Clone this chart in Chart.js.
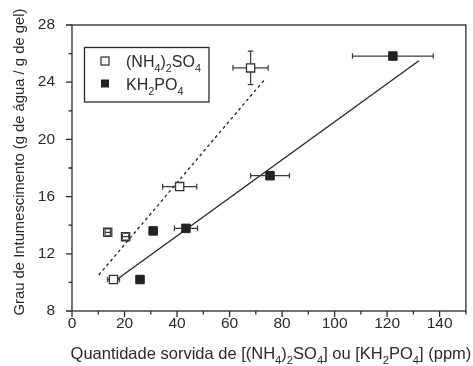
<!DOCTYPE html>
<html>
<head>
<meta charset="utf-8">
<script src="https://cdn.jsdelivr.net/npm/chart.js@4/dist/chart.umd.min.js"></script>
<style>
html,body{margin:0;padding:0;background:#fff;}
#wrap{width:473px;height:366px;position:relative;}
</style>
</head>
<body>
<div id="wrap"><canvas id="c" width="473" height="366"></canvas></div>
<script>
// ---- data ----
const nh4X = [68.0, 41.0, 13.6, 20.4, 15.8];
const nh4Y = [25.0, 16.7, 13.5, 13.2, 10.2];
const nh4XErr = [6.7, 6.5, 1.0, 1.2, 2.3];
const nh4YErr = [1.17, 0, 0.25, 0.25, 0];

const khX = [122.2, 75.4, 43.4, 30.9, 25.9];
const khY = [25.83, 17.46, 13.78, 13.6, 10.2];
const khXErr = [15.4, 7.4, 4.4, 0, 0];
const khYErr = [0, 0, 0, 0, 0];

const dashFitX = [10.2, 73.4];
const dashFitY = [10.52, 24.2];
const solidFitX = [16.8, 132.1];
const solidFitY = [10.17, 25.5];

const xTickLabels = [0, 20, 40, 60, 80, 100, 120, 140];
const yTickLabels = [8, 12, 16, 20, 24, 28];

const pts = (xs, ys) => xs.map((x, i) => ({x: x, y: ys[i]}));

const FONT = '"Liberation Sans", Arial, sans-serif';
const INK = '#2a2a2a';

function drawRich(ctx, segs, x, y, size, align) {
  ctx.save();
  let total = 0;
  segs.forEach(s => {
    ctx.font = (s.sub ? size * 0.68 : size) + 'px ' + FONT;
    total += ctx.measureText(s.t).width;
  });
  let cx = align === 'center' ? x - total / 2 : x;
  ctx.textAlign = 'left';
  ctx.textBaseline = 'alphabetic';
  segs.forEach(s => {
    ctx.font = (s.sub ? size * 0.68 : size) + 'px ' + FONT;
    ctx.fillText(s.t, cx, s.sub ? y + size * 0.33 : y);
    cx += ctx.measureText(s.t).width;
  });
  ctx.restore();
}

const decorPlugin = {
  id: 'decor',
  beforeDatasetsDraw(chart) {
    const ctx = chart.ctx, a = chart.chartArea;
    const xs = chart.scales.x, ys = chart.scales.y;
    ctx.save();
    ctx.strokeStyle = INK;
    ctx.lineWidth = 1.3;
    // frame
    ctx.strokeRect(a.left, a.top, a.right - a.left, a.bottom - a.top);
    // ticks
    ctx.beginPath();
    for (let v = 0; v <= 150; v += 10) {
      const px = xs.getPixelForValue(v);
      const len = (v % 20 === 0) ? 6 : 3.5;
      ctx.moveTo(px, a.bottom); ctx.lineTo(px, a.bottom + len);
    }
    for (let v = 8; v <= 28; v += 2) {
      const py = ys.getPixelForValue(v);
      const len = (v % 4 === 0) ? 6 : 3.5;
      ctx.moveTo(a.left, py); ctx.lineTo(a.left - len, py);
    }
    ctx.stroke();
    ctx.restore();

    // axis titles
    ctx.save();
    ctx.fillStyle = INK;
    drawRich(ctx, [
      {t: 'Quantidade sorvida de [(NH'}, {t: '4', sub: true}, {t: ')'}, {t: '2', sub: true},
      {t: 'SO'}, {t: '4', sub: true}, {t: '] ou [KH'}, {t: '2', sub: true}, {t: 'PO'},
      {t: '4', sub: true}, {t: '] (ppm)'}
    ], (a.left + a.right) / 2 + 2, 359, 16.5, 'center');
    ctx.translate(24, 162);
    ctx.rotate(-Math.PI / 2);
    drawRich(ctx, [{t: 'Grau de Intumescimento (g de água / g de gel)'}], 0, 0, 14.8, 'center');
    ctx.restore();
  },
  afterDatasetsDraw(chart) {
    const ctx = chart.ctx;
    const xs = chart.scales.x, ys = chart.scales.y;
    const half = 4.2, cap = 2.8;
    ctx.save();
    ctx.strokeStyle = '#3a3a3a';
    ctx.lineWidth = 1.2;
    const bars = (X, Y, XE, YE) => {
      X.forEach((x, i) => {
        const cx = xs.getPixelForValue(x), cy = ys.getPixelForValue(Y[i]);
        ctx.beginPath();
        if (XE[i] > 0) {
          const l = xs.getPixelForValue(x - XE[i]), r = xs.getPixelForValue(x + XE[i]);
          if (cx - l > half + 1) {
            ctx.moveTo(l, cy); ctx.lineTo(cx - half, cy);
            ctx.moveTo(cx + half, cy); ctx.lineTo(r, cy);
          } else {
            ctx.moveTo(l, cy); ctx.lineTo(r, cy);
          }
          ctx.moveTo(l, cy - cap); ctx.lineTo(l, cy + cap);
          ctx.moveTo(r, cy - cap); ctx.lineTo(r, cy + cap);
        }
        if (YE[i] > 0) {
          const t = ys.getPixelForValue(Y[i] + YE[i]), b = ys.getPixelForValue(Y[i] - YE[i]);
          if (cy - t > half + 1) {
            ctx.moveTo(cx, t); ctx.lineTo(cx, cy - half);
            ctx.moveTo(cx, cy + half); ctx.lineTo(cx, b);
          }
          ctx.moveTo(cx - cap, t); ctx.lineTo(cx + cap, t);
          ctx.moveTo(cx - cap, b); ctx.lineTo(cx + cap, b);
        }
        ctx.stroke();
      });
    };
    bars(nh4X, nh4Y, nh4XErr, nh4YErr);
    bars(khX, khY, khXErr, khYErr);
    ctx.restore();

    // legend
    ctx.save();
    ctx.strokeStyle = INK;
    ctx.lineWidth = 1.3;
    ctx.strokeRect(84.5, 47.5, 124.5, 54.5);
    ctx.fillStyle = '#fff';
    ctx.fillRect(101, 57, 8, 8);
    ctx.lineWidth = 1.2;
    ctx.strokeRect(101, 57, 8, 8);
    ctx.fillStyle = '#222';
    ctx.fillRect(101, 79.5, 8, 8);
    ctx.fillStyle = INK;
    drawRich(ctx, [{t: '(NH'}, {t: '4', sub: true}, {t: ')'}, {t: '2', sub: true}, {t: 'SO'}, {t: '4', sub: true}], 126, 66.5, 16, 'left');
    drawRich(ctx, [{t: 'KH'}, {t: '2', sub: true}, {t: 'PO'}, {t: '4', sub: true}], 126, 90, 16, 'left');
    ctx.restore();
  }
};

new Chart(document.getElementById('c'), {
  type: 'scatter',
  data: {
    datasets: [
      {
        label: 'fit (NH4)2SO4', type: 'line', data: pts(dashFitX, dashFitY),
        borderColor: '#222', borderWidth: 1.3, borderDash: [3, 3], pointRadius: 0, showLine: true, fill: false, order: 3
      },
      {
        label: 'fit KH2PO4', type: 'line', data: pts(solidFitX, solidFitY),
        borderColor: '#222', borderWidth: 1.3, pointRadius: 0, showLine: true, fill: false, order: 3
      },
      {
        label: '(NH4)2SO4', data: pts(nh4X, nh4Y), pointStyle: 'rect', pointRadius: 5.8,
        backgroundColor: '#fff', borderColor: '#333', borderWidth: 1.3, order: 1
      },
      {
        label: 'KH2PO4', data: pts(khX, khY), pointStyle: 'rect', pointRadius: 6,
        backgroundColor: '#222', borderColor: '#222', borderWidth: 1, order: 2
      }
    ]
  },
  options: {
    responsive: false,
    animation: false,
    devicePixelRatio: 1,
    layout: {padding: {top: 25, right: 5, left: 0, bottom: 0}},
    plugins: {legend: {display: false}, tooltip: {enabled: false}},
    scales: {
      x: {
        type: 'linear', min: 0, max: 150,
        grid: {display: false}, border: {display: false},
        ticks: {
          stepSize: 20, includeBounds: false, padding: -5, color: INK, maxRotation: 0,
          font: {family: FONT, size: 15.5},
          callback: v => xTickLabels.includes(v) ? String(v) : ''
        },
        afterFit: s => { s.height = 55; }
      },
      y: {
        type: 'linear', min: 8, max: 28,
        grid: {display: false}, border: {display: false},
        ticks: {
          stepSize: 4, padding: 9, color: INK,
          font: {family: FONT, size: 15.5},
          callback: v => yTickLabels.includes(v) ? String(v) : ''
        },
        afterFit: s => { s.width = 72; }
      }
    }
  },
  plugins: [decorPlugin]
});
</script>
</body>
</html>
